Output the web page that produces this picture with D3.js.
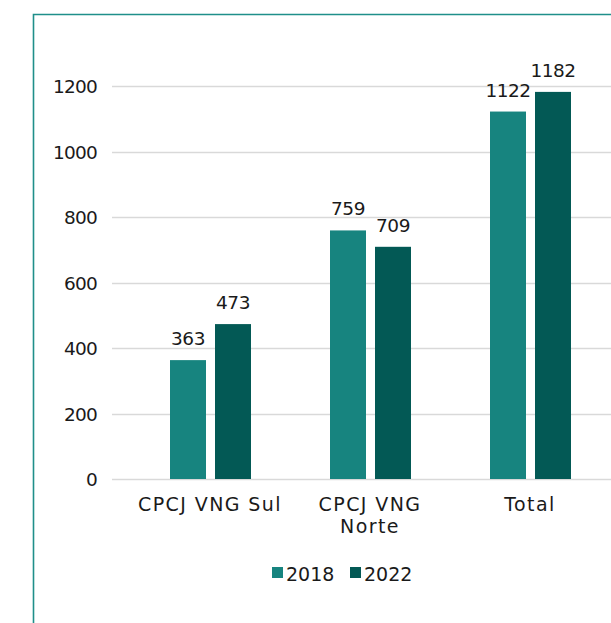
<!DOCTYPE html>
<meta charset="utf-8">
<script src="https://d3js.org/d3.v7.min.js"></script>
<style>
  body { margin: 0; background: #fff; }
  text { font-family: "DejaVu Sans", sans-serif; fill: #1a1a1a; }
</style>
<div id="my_dataviz"></div>
<script>
  // chart data
  var categories = [["CPCJ VNG Sul"], ["CPCJ VNG", "Norte"], ["Total"]];
  var catKeys = ["sul", "norte", "total"];
  var seriesNames = ["2018", "2022"];
  var values2018 = [363, 759, 1122];
  var values2022 = [473, 709, 1182];
  var yTicks = [0, 200, 400, 600, 800, 1000, 1200];
  var colors = ["#17847f", "#035955"];

  var W = 611, H = 623;
  var svg = d3.select("#my_dataviz")
    .append("svg")
      .attr("width", W)
      .attr("height", H);

  // frame (cropped box)
  svg.append("path")
    .attr("d", "M33.5," + (H + 5) + "V14.5H" + (W + 5))
    .attr("fill", "none")
    .attr("stroke", "#1f8f8a")
    .attr("stroke-width", 1.6);

  var y = d3.scaleLinear()
    .domain([0, 1200])
    .range([479, 86]);

  var x = d3.scaleBand()
    .domain(catKeys)
    .range([130, 610]);

  var xs = d3.scaleBand()
    .domain(seriesNames)
    .range([0, 81])
    .paddingInner(0.2);

  // gridlines
  svg.append("g")
    .selectAll("line")
    .data(yTicks)
    .enter()
    .append("line")
      .attr("x1", 112)
      .attr("x2", W + 5)
      .attr("y1", function(d) { return Math.round(y(d)) + 0.5 })
      .attr("y2", function(d) { return Math.round(y(d)) + 0.5 })
      .attr("stroke", "#d9d9d9")
      .attr("stroke-width", 1.5);

  // y axis labels
  var yAxis = svg.append("g")
    .attr("transform", "translate(97,0)")
    .call(d3.axisLeft(y).tickValues(yTicks).tickFormat(d3.format("d")).tickSize(0).tickPadding(0));
  yAxis.select(".domain").remove();
  yAxis.selectAll("text")
    .attr("fill", "#1a1a1a")
    .style("font-family", "DejaVu Sans")
    .style("font-size", "18.5px")
    .style("letter-spacing", "-0.8px")
    .attr("dy", "0.36em");

  // bars
  var series = [values2018, values2022];

  seriesNames.forEach(function(s, si) {
    var g = svg.append("g");
    g.selectAll("rect")
      .data(series[si])
      .enter()
      .append("rect")
        .attr("x", function(d, i) { return x(catKeys[i]) + 40 + xs(s) })
        .attr("y", function(d) { return y(d) })
        .attr("width", xs.bandwidth())
        .attr("height", function(d) { return y(0) - y(d) })
        .attr("fill", colors[si]);
    g.selectAll("text")
      .data(series[si])
      .enter()
      .append("text")
        .attr("x", function(d, i) { return x(catKeys[i]) + 40 + xs(s) + xs.bandwidth() / 2 })
        .attr("y", function(d) { return y(d) - 15 })
        .attr("text-anchor", "middle")
        .style("font-size", "18.5px")
        .style("letter-spacing", "-0.5px")
        .text(function(d) { return d });
  });

  // category labels
  var catText = svg.append("g")
    .selectAll("text")
    .data(categories)
    .enter()
    .append("text")
      .attr("text-anchor", "middle")
      .style("font-size", "19px")
      .style("letter-spacing", "1.4px")
      .attr("x", function(d, i) { return x(catKeys[i]) + x.bandwidth() / 2 })
      .attr("y", 511);
  catText.selectAll("tspan")
    .data(function(d) { return d })
    .enter()
    .append("tspan")
      .attr("x", function() { return d3.select(this.parentNode).attr("x") })
      .attr("dy", function(d, i) { return i === 0 ? 0 : 22 })
      .text(function(d) { return d });

  // legend
  var legendX = [272, 350];
  var legend = svg.append("g")
    .selectAll("g")
    .data(seriesNames)
    .enter()
    .append("g")
      .attr("transform", function(d, i) { return "translate(" + legendX[i] + ",567)" });
  legend.append("rect")
    .attr("width", 11)
    .attr("height", 11)
    .attr("fill", function(d, i) { return colors[i] });
  legend.append("text")
    .attr("x", 14)
    .attr("y", 13.5)
    .style("font-size", "19px")
    .text(function(d) { return d });
</script>
